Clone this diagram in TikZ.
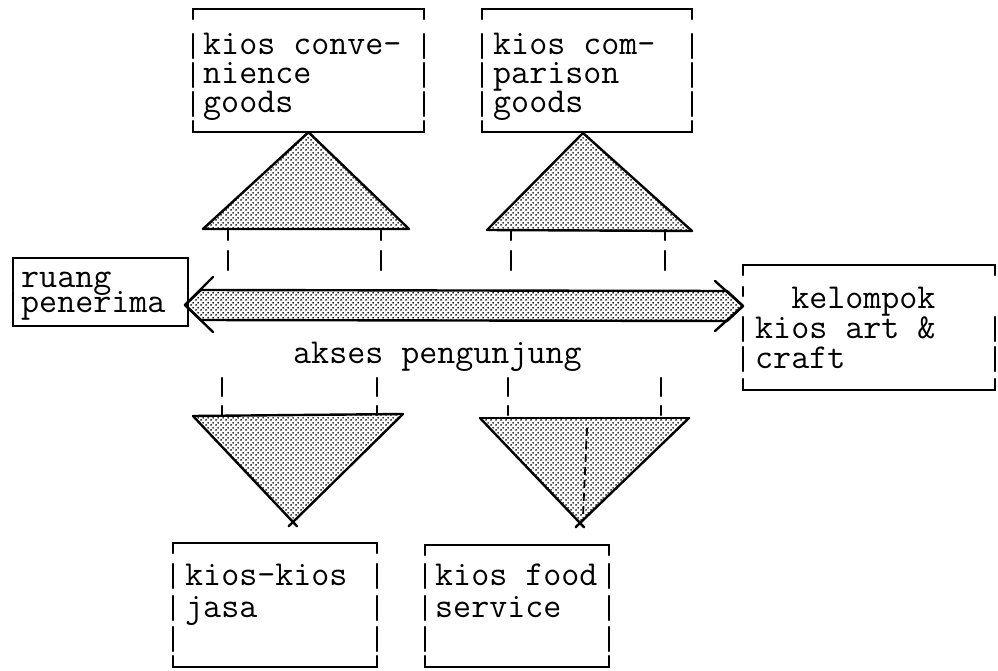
\documentclass[tikz,border=0pt]{standalone}
\usepackage{fontspec}
\usetikzlibrary{patterns,fit}
\pgfdeclarepatternformonly{stip}{\pgfqpoint{0pt}{0pt}}{\pgfqpoint{5pt}{5pt}}{\pgfqpoint{5pt}{5pt}}{%
  \pgfpathcircle{\pgfqpoint{1.25pt}{1.25pt}}{1.1pt}%
  \pgfpathcircle{\pgfqpoint{3.75pt}{3.75pt}}{1.1pt}%
  \pgfusepath{fill}}
% box frame: name, left, top, right, bottom, baselines of rows
\newcommand\kbox[6]{%
  \path (#2,#3) coordinate (#1nw) (#4,#5) coordinate (#1se);
  \node[fit=(#1nw)(#1se), inner sep=0pt] (#1) {};
  \draw[frameline] (#2,#3+10) -- (#2,#3) -- (#4,#3) -- (#4,#3+10);
  \draw[frameline] (#2,#5-11) -- (#2,#5) -- (#4,#5) -- (#4,#5-11);
  \foreach \bl in {#6}{%
    \draw[frameline] (#2,\bl-21) -- (#2,\bl+3);
    \draw[frameline] (#4,\bl-21) -- (#4,\bl+3);
  }%
}
% multi-line text block, baseline of first line at anchor
\newcommand\lines[2]{\vtop{\lineskiplimit=-100pt\baselineskip=#1pt\relax #2}}
\begin{document}
\begin{tikzpicture}[x=1pt,y=-1pt,
  frameline/.style={line width=2.2pt, line cap=round},
  shapeline/.style={line width=2.4pt, line join=round, line cap=round},
  stipple/.style={pattern=stip, pattern color=black},
  txt/.style={font=\ttfamily\fontsize{35}{30}\selectfont\addfontfeatures{FakeBold=4}, inner sep=0pt, anchor=base west},
  tick/.style={line width=2.2pt, line cap=round}]
\useasboundingbox (0,0) rectangle (998,671);

% boxes
\kbox{b1}{193}{9}{424}{132}{55,84,113}
\kbox{b2}{482}{9}{692}{132}{55,84,113}
\kbox{b3}{13}{258}{188}{326}{287,312}
\kbox{b4}{743}{265}{995}{390}{338,368}
\kbox{b5}{173}{543}{377}{667}{585,617,648}
\kbox{b6}{425}{545}{609}{667}{585,617,648}
\draw[frameline] (743,287) -- (743,296);

% texts
\node[txt] (t1) at (203,55) {\lines{29}{\hbox{kios conve-}\hbox{nience}\hbox{goods}}};
\node[txt] (t2) at (493,55) {\lines{29}{\hbox{kios com-}\hbox{parison}\hbox{goods}}};
\node[txt] (t3) at (21,287) {\lines{25}{\hbox{ruang}\hbox{penerima}}};
\node[txt] (t4) at (755,308) {\lines{30}{\hbox{\ \ kelompok}\hbox{kios art \&}\hbox{craft}}};
\node[txt] (t5) at (185,585) {\lines{32}{\hbox{kios-kios}\hbox{jasa}}};
\node[txt] (t6) at (435,585) {\lines{32}{\hbox{kios food}\hbox{service}}};
\node[txt] (ak) at (293,363) {akses pengunjung};

% upper triangles
\fill[stipple] (b1.south) -- (409,229) -- (203,229) -- cycle;
\draw[shapeline] (b1.south) -- (409,229) -- (203,229) -- cycle;
\fill[stipple] (583,133) -- (692,231) -- (487,230) -- cycle;
\draw[shapeline] (583,133) -- (692,231) -- (487,230) -- cycle;

% lower triangles
\fill[stipple] (193,416) -- (403,414) -- (293,522) -- cycle;
\draw[shapeline] (193,416) -- (403,414);
\draw[shapeline,shorten >=-6pt] (193,416) -- (293,522);
\draw[shapeline,shorten >=-6pt] (403,414) -- (293,522);
\fill[stipple] (480,418) -- (689,418) -- (580,523) -- cycle;
\draw[shapeline] (480,418) -- (689,418);
\draw[shapeline,shorten >=-6pt] (480,418) -- (580,523);
\draw[shapeline,shorten >=-6pt] (689,418) -- (580,523);
\draw[line width=1.8pt, dash pattern=on 8pt off 5pt] (587,428) -- (583,516);

% vertical ticks
\foreach \x in {228,381,511,665}{%
  \draw[tick] (\x,230) -- (\x,240);
  \draw[tick] (\x,251) -- (\x,270);
}
\foreach \x in {222,377,508,661}{%
  \draw[tick] (\x,378) -- (\x,396);
  \draw[tick] (\x,406) -- (\x,415);
}

% double arrow (akses pengunjung)
\coordinate (la) at (185,305);
\coordinate (ra) at (743,306);
\fill[stipple] (la) -- (201,290) -- (727,291) -- (ra) -- (727,321) -- (201,320) -- cycle;
\draw[shapeline] (la) -- (201,290) -- (727,291) -- (ra) -- (727,321) -- (201,320) -- cycle;
\draw[shapeline] (213,277) -- (la) -- (213,332);
\draw[shapeline] (715,281) -- (ra) -- (715,331);
\end{tikzpicture}
\end{document}
